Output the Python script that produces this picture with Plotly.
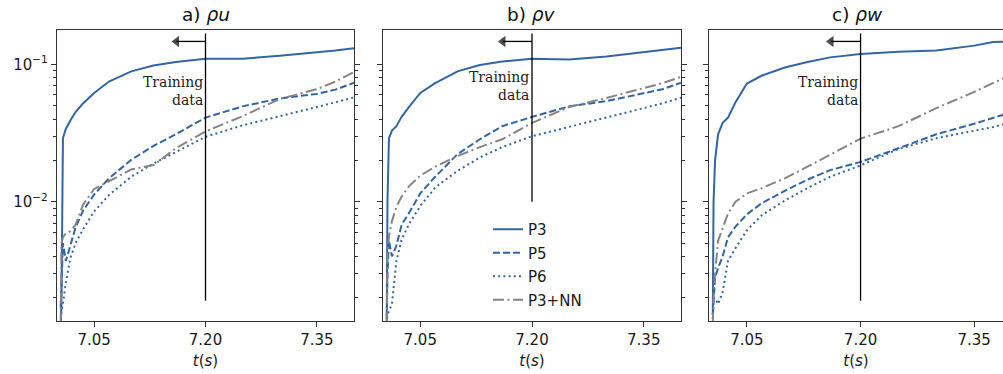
import math
import plotly.graph_objects as go

# ---------------- data ----------------
t = [7.005, 7.006, 7.008, 7.012, 7.018, 7.025, 7.035, 7.05, 7.07, 7.1,
     7.13, 7.16, 7.2, 7.25, 7.3, 7.35, 7.375, 7.4]

series_names = ["P3", "P5", "P6", "P3+NN"]
panel_titles = ["a) <i>ρu</i>", "b) <i>ρv</i>", "c) <i>ρw</i>"]

# panel a (rho u)
a_P3 = [0.0012, 0.0018, 0.029, 0.034, 0.039, 0.045, 0.052, 0.062, 0.075, 0.089,
        0.098, 0.104, 0.110, 0.110, 0.1155, 0.122, 0.126, 0.131]
a_P5 = [0.0017, 0.0025, 0.005, 0.0037, 0.0048, 0.0065, 0.0086, 0.0113, 0.0148, 0.0202,
        0.0255, 0.031, 0.041, 0.0495, 0.0565, 0.061, 0.0655, 0.0735]
a_P6 = [0.0014, 0.0016, 0.0018, 0.0026, 0.0039, 0.005, 0.0063, 0.0085, 0.0112, 0.0152,
        0.019, 0.023, 0.0297, 0.036, 0.0418, 0.049, 0.053, 0.0575]
a_NN = [0.0013, 0.005, 0.0055, 0.0059, 0.0061, 0.0068, 0.0095, 0.0124, 0.0141, 0.0172,
        0.0185, 0.0245, 0.0325, 0.042, 0.056, 0.066, 0.075, 0.088]

# panel b (rho v)
b_P3 = [0.0012, 0.01, 0.029, 0.033, 0.0355, 0.0415, 0.049, 0.062, 0.073, 0.089,
        0.099, 0.105, 0.110, 0.1085, 0.114, 0.123, 0.127, 0.132]
b_P5 = [0.0014, 0.003, 0.0052, 0.004, 0.0048, 0.0068, 0.0083, 0.0115, 0.0152, 0.0222,
        0.0285, 0.0355, 0.0415, 0.0495, 0.054, 0.0615, 0.066, 0.0735]
b_P6 = [0.0013, 0.0015, 0.0016, 0.0018, 0.0037, 0.0053, 0.0069, 0.0093, 0.0127, 0.0168,
        0.021, 0.025, 0.030, 0.0351, 0.041, 0.0479, 0.052, 0.0573]
b_NN = [0.0013, 0.004, 0.0056, 0.0072, 0.0092, 0.0109, 0.013, 0.0155, 0.018, 0.0215,
        0.025, 0.0285, 0.0375, 0.049, 0.057, 0.0668, 0.073, 0.0812]

# panel c (rho w)
c_P3 = [0.0015, 0.010, 0.020, 0.031, 0.0375, 0.041, 0.053, 0.0726, 0.083, 0.095,
        0.104, 0.1125, 0.119, 0.1235, 0.126, 0.137, 0.1455, 0.147]
c_P5 = [0.0015, 0.0018, 0.0028, 0.0033, 0.0040, 0.0055, 0.0066, 0.0081, 0.0098, 0.012,
        0.0145, 0.017, 0.0195, 0.0245, 0.031, 0.037, 0.0405, 0.045]
c_P6 = [0.0014, 0.002, 0.002, 0.0018, 0.0022, 0.0037, 0.0046, 0.0062, 0.008, 0.0102,
        0.0126, 0.0152, 0.0184, 0.0242, 0.029, 0.0328, 0.035, 0.038]
c_NN = [0.0013, 0.002, 0.003, 0.0052, 0.0064, 0.0082, 0.0100, 0.0115, 0.0126, 0.0148,
        0.018, 0.022, 0.0288, 0.0355, 0.048, 0.063, 0.073, 0.085]

panels = [
    [a_P3, a_P5, a_P6, a_NN],
    [b_P3, b_P5, b_P6, b_NN],
    [c_P3, c_P5, c_P6, c_NN],
]

train_end = 7.20
vline_top = 0.168
vline_bottom = [0.0019, 0.01, 0.0019]
arrow_tip = 7.161      # centre of the arrow-head marker
arrow_level = 0.147

x_tickvals = [7.05, 7.20, 7.35]
x_ticktext = ["7.05", "7.20", "7.35"]
y_tickvals = [0.01, 0.1]
y_ticktext = ["10<sup>−2</sup>", "10<sup>−1</sup>"]

# ---------------- style ----------------
BLUE = "#3465a3"
GRAY = "#858585"
styles = [
    dict(color=BLUE, width=2.0, dash="solid"),
    dict(color=BLUE, width=2.0, dash="7px,3px"),
    dict(color=BLUE, width=2.0, dash="2px,3.2px"),
    dict(color=GRAY, width=2.0, dash="11px,3.5px,2px,3.5px"),
]

W, H = 1003, 374
MT, MB = 30, 53
domains_px = [(57, 354), (383, 681), (709, 1003)]
x_ranges = [[7.0, 7.4], [7.0, 7.4], [7.0, 7.388]]
y_range = [math.log10(0.001355), math.log10(0.178)]

minor_vals = [m * 10 ** e for e in (-3, -2, -1) for m in range(2, 10)]

fig = go.Figure()

for p, data in enumerate(panels):
    xa = "x" if p == 0 else f"x{p+1}"
    ya = "y" if p == 0 else f"y{p+1}"
    for s, vals in enumerate(data):
        fig.add_trace(go.Scatter(
            x=t, y=vals, mode="lines", line=styles[s],
            name=series_names[s], legendgroup=series_names[s],
            showlegend=(p == 1), xaxis=xa, yaxis=ya,
        ))
    # training-data boundary line
    fig.add_trace(go.Scatter(
        x=[train_end, train_end], y=[vline_bottom[p], vline_top],
        mode="lines", line=dict(color="black", width=1.3),
        showlegend=False, xaxis=xa, yaxis=ya, hoverinfo="skip",
    ))
    # arrow pointing to the training window
    fig.add_trace(go.Scatter(
        x=[train_end, arrow_tip], y=[arrow_level, arrow_level],
        mode="lines+markers", line=dict(color="black", width=1.3),
        marker=dict(symbol="triangle-left", size=[0, 10], color="black",
                    line=dict(width=0)),
        showlegend=False, xaxis=xa, yaxis=ya, hoverinfo="skip",
    ))

axis_font = dict(family="DejaVu Sans", size=15, color="#1a1a1a")
for p in range(3):
    xk = "xaxis" if p == 0 else f"xaxis{p+1}"
    yk = "yaxis" if p == 0 else f"yaxis{p+1}"
    d0, d1 = domains_px[p]
    fig.layout[xk] = dict(
        domain=[d0 / W, d1 / W], range=x_ranges[p], anchor="y" if p == 0 else f"y{p+1}",
        tickvals=x_tickvals, ticktext=x_ticktext, ticks="outside", ticklen=5,
        tickwidth=1.2, tickcolor="#333", showline=True, linecolor="#333", linewidth=1.4,
        mirror=True, showgrid=False, zeroline=False, tickfont=axis_font,
        title=dict(text="<i>t</i>(<i>s</i>)", font=axis_font, standoff=7),
    )
    fig.layout[yk] = dict(
        type="log", domain=[0, 1], range=y_range, anchor="x" if p == 0 else f"x{p+1}",
        tickvals=y_tickvals, ticktext=y_ticktext, ticks="outside", ticklen=5,
        tickwidth=1.2, tickcolor="#333", showline=True, linecolor="#333", linewidth=1.4,
        mirror="ticks" if p < 2 else False, showgrid=False, zeroline=False,
        tickfont=axis_font, showticklabels=(p == 0),
        minor=dict(tickvals=minor_vals, ticks="outside", ticklen=3, tickwidth=1,
                   tickcolor="#333", showgrid=False),
    )

annotations = []
text_y = [0.064, 0.0695, 0.0645]
for p in range(3):
    xr = "x" if p == 0 else f"x{p+1}"
    yr = "y" if p == 0 else f"y{p+1}"
    d0, d1 = domains_px[p]
    annotations.append(dict(
        text=panel_titles[p], xref="paper", yref="paper",
        x=(d0 + (d0 + 297)) / 2 / W, y=1, xanchor="center", yanchor="bottom",
        yshift=3, showarrow=False,
        font=dict(family="DejaVu Sans", size=18.5, color="#111"),
    ))
    annotations.append(dict(
        text="Training<br>data", xref=xr, yref=yr, x=train_end,
        y=math.log10(text_y[p]), xanchor="right", yanchor="middle", align="right",
        xshift=-1, showarrow=False,
        font=dict(family="DejaVu Serif", size=14, color="#222"),
    ))

fig.update_layout(
    width=W, height=H,
    margin=dict(l=0, r=0, t=MT, b=MB),
    paper_bgcolor="white", plot_bgcolor="white",
    font=dict(family="DejaVu Sans", size=15, color="#1a1a1a"),
    annotations=annotations,
    showlegend=True,
    legend=dict(
        x=488 / W, y=(H - MB - 213) / (H - MT - MB), xanchor="left", yanchor="top",
        bgcolor="rgba(0,0,0,0)", borderwidth=0,
        font=dict(family="DejaVu Sans", size=15, color="#1a1a1a"),
        traceorder="grouped", tracegroupgap=1,
    ),
)

fig.write_html("out.html")
